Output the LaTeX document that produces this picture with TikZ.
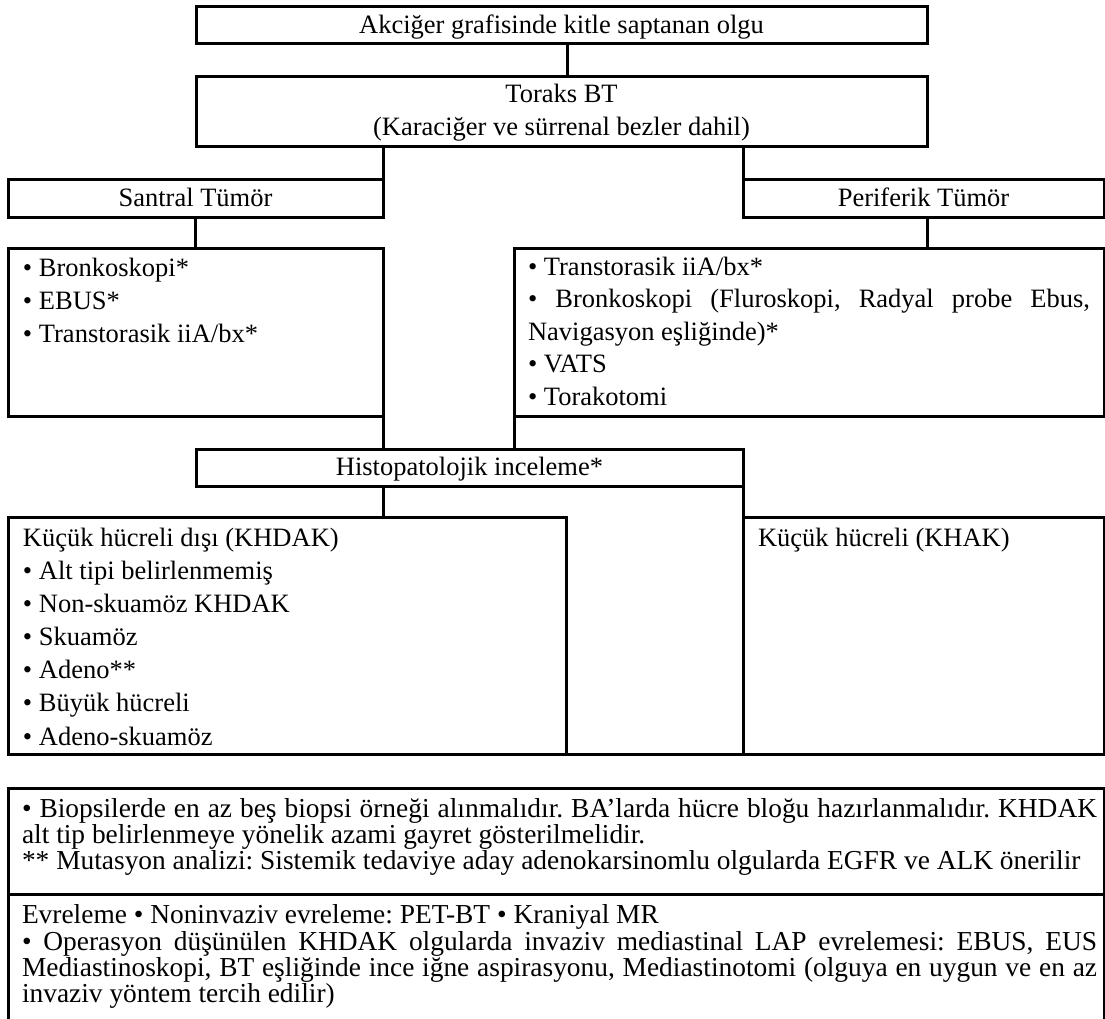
\documentclass[tikz,border=0pt]{standalone}
\usepackage{fontspec}
\setmainfont{Liberation Serif}
\usetikzlibrary{calc}
\newcommand\fsz{\fontsize{26.5pt}{33pt}\selectfont\frenchspacing}
\newcommand\fsl{\fontsize{27.4pt}{26pt}\selectfont\frenchspacing}
\begin{document}
\begin{tikzpicture}[x=1pt,y=-1pt,
  box/.style={draw, line width=3pt, rectangle, inner sep=0pt, outer sep=0pt, font=\fsz, text height=18.5pt, text depth=2.6pt},
  conn/.style={line width=3pt},
  txt/.style={anchor=base west, inner sep=0pt, outer sep=0pt, font=\fsz},
  txtl/.style={anchor=base west, inner sep=0pt, outer sep=0pt, font=\fsl},
  txtc/.style={anchor=base, inner sep=0pt, outer sep=0pt, font=\fsz}]
\useasboundingbox (0,0) rectangle (1105,1019);
% boxes
\node[box, minimum width=731pt, minimum height=37pt] (b1) at (561.5,25.5) {Akciğer grafisinde kitle saptanan olgu};
\node[box, minimum width=731pt, minimum height=70pt] (b2) at (561.5,112) {};
\node[box, minimum width=375pt, minimum height=37pt] (sant) at (195.5,198.5) {Santral Tümör};
\node[box, minimum width=361pt, minimum height=37pt] (peri) at (923.5,198.5) {Periferik Tümör};
\node[box, minimum width=375pt, minimum height=168pt] (lb) at (195.5,332) {};
\node[box, minimum width=590pt, minimum height=168pt] (rb) at (809,332) {};
\node[box, minimum width=547pt, minimum height=37pt] (hist) at (469.5,467.5) {Histopatolojik inceleme*};
\node[box, minimum width=558pt, minimum height=237pt] (khdak) at (287,635.5) {};
\node[box, minimum width=361pt, minimum height=237pt] (khak) at (923.5,635.5) {};
\node[box, minimum width=1096pt, minimum height=106pt] (notes) at (556,841) {};
\node[box, minimum width=1096pt, minimum height=136pt] (evre) at (556,962) {};
% connectors
\draw[conn] ([xshift=5.5pt]b1.south) -- ([xshift=5.5pt]b2.north);
\draw[conn] (sant.north east) -- (sant.north east |- b2.south);
\draw[conn] (peri.north west) -- (peri.north west |- b2.south);
\draw[conn] (sant.south) -- (lb.north);
\draw[conn] ([xshift=3.5pt]peri.south) -- ([xshift=3.5pt]peri.south |- rb.north);
\draw[conn] (lb.south east) -- (lb.south east |- hist.north);
\draw[conn] (rb.south west) -- (rb.south west |- hist.north);
\draw[conn] (hist.south -| lb.east) -- (khdak.north -| lb.east);
\draw[conn] (hist.south east) -- (khak.north west);
\draw[conn] (khdak.south east) -- (khak.south west);
% texts
\node[txtc] (b2a) at (561.5,103) {Toraks BT};
\node[txtc] (b2b) at (561.5,136) {(Karaciğer ve sürrenal bezler dahil)};
\node[txt] (lb1) at (23,276) {• Bronkoskopi*};
\node[txt] (lb2) at (23,309) {• EBUS*};
\node[txt] (lb3) at (23,342) {• Transtorasik iiA/bx*};
\node[txt] (rb1) at (528,275) {• Transtorasik iiA/bx*};
\node[txt] (rb2) at (528,307.5) {\makebox[562pt][s]{• Bronkoskopi (Fluroskopi, Radyal probe Ebus,}};
\node[txt] (rb3) at (528,340) {Navigasyon eşliğinde)*};
\node[txt] (rb4) at (528,372.5) {• VATS};
\node[txt] (rb5) at (528,405) {• Torakotomi};
\node[txt] (k1) at (23,546) {Küçük hücreli dışı (KHDAK)};
\node[txt] (k2) at (23,579.2) {• Alt tipi belirlenmemiş};
\node[txt] (k3) at (23,612.3) {• Non-skuamöz KHDAK};
\node[txt] (k4) at (23,645.5) {• Skuamöz};
\node[txt] (k5) at (23,678.7) {• Adeno**};
\node[txt] (k6) at (23,711.8) {• Büyük hücreli};
\node[txt] (k7) at (23,745) {• Adeno-skuamöz};
\node[txt] (kh1) at (758,546) {Küçük hücreli (KHAK)};
\node[txtl] (n1) at (22,817) {\makebox[1075pt][s]{• Biopsilerde en az beş biopsi örneği alınmalıdır. BA’larda hücre bloğu hazırlanmalıdır. KHDAK}};
\node[txtl] (n2) at (22,843) {alt tip belirlenmeye yönelik azami gayret gösterilmelidir.};
\node[txtl] (n3) at (22,869.5) {** Mutasyon analizi: Sistemik tedaviye aday adenokarsinomlu olgularda EGFR ve ALK önerilir};
\node[txtl] (e1) at (22,923) {Evreleme • Noninvaziv evreleme: PET-BT • Kraniyal MR};
\node[txtl] (e2) at (22,950) {\makebox[1075pt][s]{• Operasyon düşünülen KHDAK olgularda invaziv mediastinal LAP evrelemesi: EBUS, EUS}};
\node[txtl] (e3) at (22,976) {\makebox[1075pt][s]{Mediastinoskopi, BT eşliğinde ince iğne aspirasyonu, Mediastinotomi (olguya en uygun ve en az}};
\node[txtl] (e4) at (22,1002) {invaziv yöntem tercih edilir)};
\end{tikzpicture}
\end{document}
